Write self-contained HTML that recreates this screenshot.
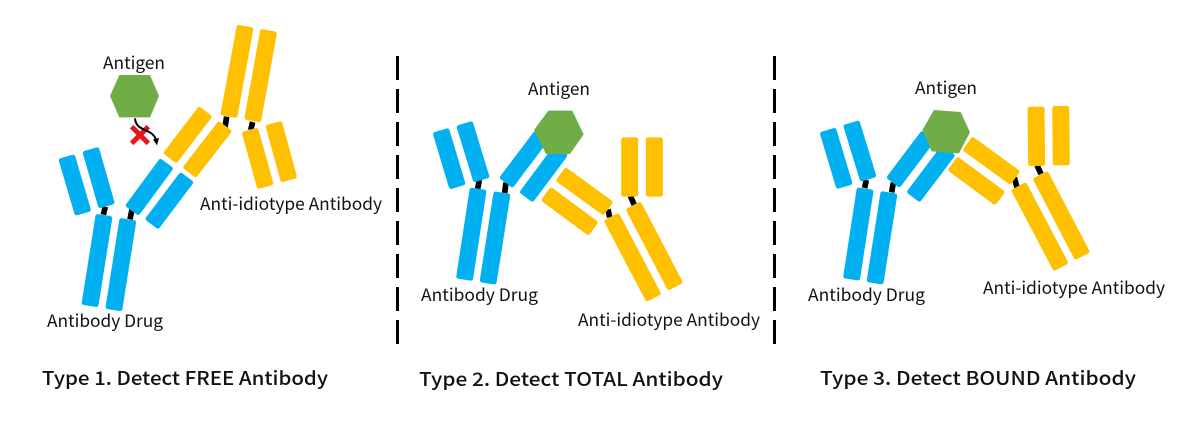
<!DOCTYPE html>
<html><head><meta charset="utf-8"><style>
html,body{margin:0;padding:0;background:#fff;width:1203px;height:428px;overflow:hidden}
svg{display:block}
.l{font:17px "Noto Sans CJK SC","Liberation Sans",sans-serif;fill:#111}
.t{font:500 19px "Noto Sans CJK SC","Liberation Sans",sans-serif;fill:#111}
.b{fill:#00b0f0}.y{fill:#ffc000}
.k line{stroke:#000;stroke-width:17}
</style></head><body>
<svg width="1203" height="428" viewBox="0 0 1203 428" xmlns="http://www.w3.org/2000/svg">
<defs>
<rect id="s" x="-25.5" y="-89" width="51" height="178" rx="7"/>
<rect id="o" x="-25.5" y="-138" width="51" height="276" rx="7"/>
</defs>
<rect width="1203" height="428" fill="#fff"/>

<!-- Panel 1 -->
<g transform="translate(40 10) scale(.33333)">
<g class="k">
<line x1="196" y1="590" x2="190" y2="614"/><line x1="276" y1="598" x2="270" y2="628"/>
<line x1="560" y1="320" x2="555" y2="352"/><line x1="638" y1="336" x2="632" y2="360"/>
</g>
<g class="b">
<use href="#s" transform="translate(104.5 525) rotate(-16.4)"/>
<use href="#s" transform="translate(176 503) rotate(-16)"/>
<use href="#o" transform="translate(171 751.5) rotate(9)"/>
<use href="#o" transform="translate(242.5 764) rotate(9)"/>
<use href="#s" transform="translate(328 531) rotate(36.3)"/>
<use href="#s" transform="translate(388 572) rotate(37)"/>
</g>
<g class="y">
<use href="#s" transform="translate(443 374.5) rotate(37.4)"/>
<use href="#s" transform="translate(502 418) rotate(37.7)"/>
<use href="#o" transform="translate(591 184) rotate(10.4)"/>
<use href="#o" transform="translate(662 197) rotate(10.2)"/>
<use href="#s" transform="translate(653 445) rotate(-15.5)"/>
<use href="#s" transform="translate(724 425) rotate(-15.3)"/>
</g>
<polygon points="210,258 238,195 330,195 357,258 330,322 238,322" fill="#70ad47"/>
<path d="M275 400L325 350M275 350L325 400" stroke="#e8141c" stroke-width="15" fill="none"/>
<path d="M285 325C288 368 338 352 349 392" stroke="#000" stroke-width="6" fill="none"/>
<polygon points="339,388 357,384 351,406" fill="#000"/>
</g>

<!-- Panel 2 -->
<g transform="translate(410 70) scale(.33333)">
<g class="k">
<line x1="208" y1="330" x2="203" y2="356"/><line x1="288" y1="338" x2="284" y2="369"/>
<line x1="594" y1="418" x2="599" y2="442"/><line x1="661" y1="378" x2="673" y2="405"/>
</g>
<g class="b">
<use href="#s" transform="translate(117.5 266) rotate(-16.7)"/>
<use href="#s" transform="translate(189 245) rotate(-17)"/>
<use href="#o" transform="translate(184 492.5) rotate(8.7)"/>
<use href="#o" transform="translate(255 504) rotate(8.9)"/>
<use href="#s" transform="translate(341 268) rotate(37)"/>
<use href="#s" transform="translate(401 311) rotate(36.7)"/>
</g>
<g class="y">
<use href="#s" transform="translate(523.5 364) rotate(-54)"/>
<use href="#s" transform="translate(479 424) rotate(-53.5)"/>
<use href="#s" transform="translate(659 291)"/>
<use href="#s" transform="translate(733 291)"/>
<use href="#o" transform="translate(667.5 562) rotate(-27.7)"/>
<use href="#o" transform="translate(733 528) rotate(-27.5)"/>
</g>
<polygon points="372,180 415,122 487,122 521,193 480,252 408,252" fill="#70ad47"/>
</g>

<!-- Panel 3 -->
<g transform="translate(790 70) scale(.33333)">
<g class="k">
<line x1="229" y1="330" x2="224" y2="354"/><line x1="310" y1="338" x2="305" y2="367"/>
<line x1="673" y1="323" x2="681" y2="352"/><line x1="741" y1="286" x2="753" y2="312"/>
</g>
<g class="b">
<use href="#s" transform="translate(138.5 265) rotate(-16.7)"/>
<use href="#s" transform="translate(209.5 243) rotate(-17)"/>
<use href="#o" transform="translate(205 492) rotate(8.7)"/>
<use href="#o" transform="translate(276 503.5) rotate(8.9)"/>
<use href="#s" transform="translate(362 267.5) rotate(37)"/>
<use href="#s" transform="translate(422.5 311) rotate(37)"/>
</g>
<g class="y">
<use href="#s" transform="translate(604 272) rotate(-54)"/>
<use href="#s" transform="translate(559 333) rotate(-53.5)"/>
<use href="#s" transform="translate(739 199) rotate(-.6)"/>
<use href="#s" transform="translate(813 197) rotate(-.6)"/>
<use href="#o" transform="translate(749.5 470) rotate(-27.7)"/>
<use href="#o" transform="translate(814 436.5) rotate(-27.5)"/>
</g>
<polygon points="397,180 432,120 512,126 540,187 507,250 425,244" fill="#70ad47"/>
</g>

<!-- Dividers -->
<line x1="397.5" y1="56" x2="397.5" y2="344" stroke="#000" stroke-width="3" stroke-dasharray="24 9"/>
<line x1="774.5" y1="56" x2="774.5" y2="344" stroke="#000" stroke-width="3" stroke-dasharray="24 9"/>

<!-- Labels -->
<text class="l" x="103" y="69" textLength="62" lengthAdjust="spacingAndGlyphs">Antigen</text>
<text class="l" x="47" y="327" textLength="116" lengthAdjust="spacingAndGlyphs">Antibody Drug</text>
<text class="l" x="200" y="210" textLength="182" lengthAdjust="spacingAndGlyphs">Anti-idiotype Antibody</text>
<text class="l" x="528" y="95" textLength="62" lengthAdjust="spacingAndGlyphs">Antigen</text>
<text class="l" x="421" y="301" textLength="117" lengthAdjust="spacingAndGlyphs">Antibody Drug</text>
<text class="l" x="578" y="326" textLength="182" lengthAdjust="spacingAndGlyphs">Anti-idiotype Antibody</text>
<text class="l" x="915" y="94" textLength="62" lengthAdjust="spacingAndGlyphs">Antigen</text>
<text class="l" x="808" y="301" textLength="117" lengthAdjust="spacingAndGlyphs">Antibody Drug</text>
<text class="l" x="983" y="294" textLength="182" lengthAdjust="spacingAndGlyphs">Anti-idiotype Antibody</text>

<text class="t" x="42" y="385" textLength="286" lengthAdjust="spacingAndGlyphs">Type 1. Detect FREE Antibody</text>
<text class="t" x="419" y="386" textLength="304" lengthAdjust="spacingAndGlyphs">Type 2. Detect TOTAL Antibody</text>
<text class="t" x="820" y="385" textLength="316" lengthAdjust="spacingAndGlyphs">Type 3. Detect BOUND Antibody</text>
</svg>
</body></html>
